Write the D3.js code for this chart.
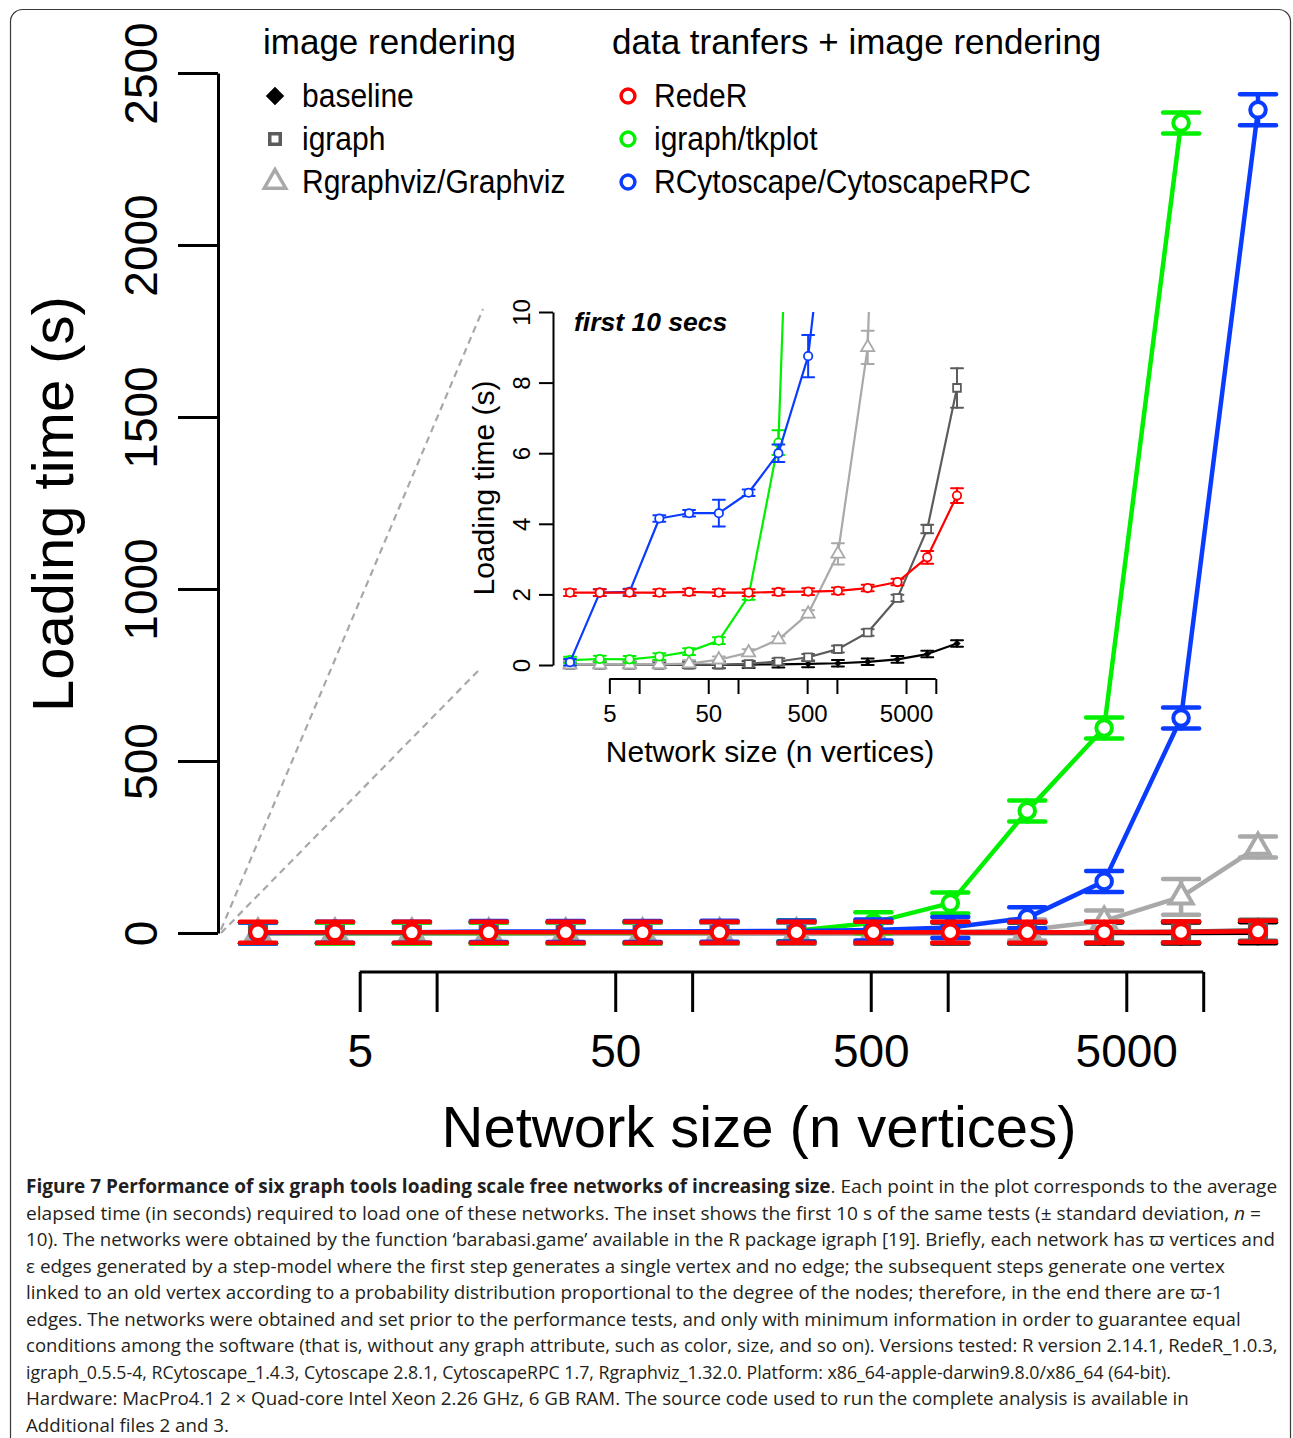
<!DOCTYPE html>
<html><head><meta charset="utf-8">
<script src="https://cdn.jsdelivr.net/npm/d3@7"></script>
<style>body{margin:0;background:#fff} svg{display:block}</style>
</head><body>
<svg id="chart" width="1293" height="1438"></svg>
<script>
// ---------------- data ----------------
const sizes = [2,4,8,16,32,64,128,256,512,1024,2048,4096,8192,16384];
const baselineMean  = [0,0,0,0,0,0,0.01,0.02,0.03,0.05,0.09,0.16,0.31,0.61];
const baselineSd    = [0.01,0.01,0.01,0.01,0.01,0.01,0.02,0.03,0.03,0.04,0.05,0.05,0.08,0.07];
const igraphMean    = [0.01,0.01,0.01,0.01,0.01,0.01,0.03,0.1,0.22,0.45,0.92,1.9,3.85,7.85];
const igraphSd      = [0.01,0.01,0.01,0.01,0.01,0.01,0.02,0.03,0.04,0.05,0.06,0.08,0.12,0.56];
const rgraphvizMean = [0.01,0.01,0.01,0.02,0.04,0.15,0.35,0.72,1.45,3.15,9.0,35,105,250];
const rgraphvizSd   = [0.01,0.01,0.01,0.01,0.02,0.03,0.05,0.05,0.1,0.3,0.47,8,52,25];
const redeRMean     = [2.05,2.05,2.05,2.05,2.07,2.05,2.05,2.07,2.08,2.1,2.18,2.35,3.05,4.8];
const redeRSd       = [0.05,0.05,0.05,0.05,0.05,0.05,0.05,0.05,0.05,0.05,0.05,0.06,0.18,0.21];
const tkplotMean    = [0.14,0.17,0.16,0.24,0.38,0.69,1.95,6.3,30,87,355,596,2355,null];
const tkplotSd      = [0.03,0.03,0.03,0.04,0.05,0.07,0.1,0.35,5,25,28,28,28,null];
const rcytoMean     = [0.08,2.05,2.07,4.15,4.3,4.3,4.88,6.0,8.75,16,44,150,625,2393];
const rcytoSd       = [0.05,0.05,0.05,0.09,0.06,0.38,0.08,0.25,0.6,5,25,28,28,45];

const mainYTicks  = [0,500,1000,1500,2000,2500];
const xTicks      = [5,10,50,100,500,1000,5000,10000];
const xTickLabels = [5,50,500,5000];
const insetYTicks = [0,2,4,6,8,10];

const legendLeftTitle  = "image rendering";
const legendRightTitle = "data tranfers + image rendering";

// series definitions (drawing order)
const series = [
  {name:"baseline", mean:baselineMean, sd:baselineSd, color:"#000000", shape:"diamond"},
  {name:"igraph", mean:igraphMean, sd:igraphSd, color:"#5c5c5c", shape:"square"},
  {name:"Rgraphviz/Graphviz", mean:rgraphvizMean, sd:rgraphvizSd, color:"#a9a9a9", shape:"triangle"},
  {name:"igraph/tkplot", mean:tkplotMean, sd:tkplotSd, color:"#00f000", shape:"circle"},
  {name:"RCytoscape/CytoscapeRPC", mean:rcytoMean, sd:rcytoSd, color:"#0a3cff", shape:"circle"},
  {name:"RedeR", mean:redeRMean, sd:redeRSd, color:"#ff0000", shape:"circle"}
];
const legendLeft  = ["baseline","igraph","Rgraphviz/Graphviz"];
const legendRight = ["RedeR","igraph/tkplot","RCytoscape/CytoscapeRPC"];

const captionLines = [
  [{t:"Figure 7 Performance of six graph tools loading scale free networks of increasing size", b:1},{t:". Each point in the plot corresponds to the average"}],
  [{t:"elapsed time (in seconds) required to load one of these networks. The inset shows the first 10 s of the same tests (± standard deviation, "},{t:"n",i:1},{t:" ="}],
  [{t:"10). The networks were obtained by the function \u2018barabasi.game\u2019 available in the R package igraph [19]. Briefly, each network has \u03D6 vertices and"}],
  [{t:"\u03B5 edges generated by a step-model where the first step generates a single vertex and no edge; the subsequent steps generate one vertex"}],
  [{t:"linked to an old vertex according to a probability distribution proportional to the degree of the nodes; therefore, in the end there are \u03D6-1"}],
  [{t:"edges. The networks were obtained and set prior to the performance tests, and only with minimum information in order to guarantee equal"}],
  [{t:"conditions among the software (that is, without any graph attribute, such as color, size, and so on). Versions tested: R version 2.14.1, RedeR_1.0.3,"}],
  [{t:"igraph_0.5.5-4, RCytoscape_1.4.3, Cytoscape 2.8.1, CytoscapeRPC 1.7, Rgraphviz_1.32.0. Platform: x86_64-apple-darwin9.8.0/x86_64 (64-bit)."}],
  [{t:"Hardware: MacPro4.1 2 \u00D7 Quad-core Intel Xeon 2.26 GHz, 6 GB RAM. The source code used to run the complete analysis is available in"}],
  [{t:"Additional files 2 and 3."}]
];
const captionRightEdges = [1278,1262,1276,1226,1223,1242,1278,1172,1190,229];

// ---------------- drawing ----------------
const svg = d3.select("#chart");
const FONT = "'Liberation Sans', Arial, Helvetica, sans-serif";

svg.append("rect").attr("x",10.5).attr("y",9.5).attr("width",1280).attr("height",1500)
  .attr("rx",12).attr("fill","none").attr("stroke","#3a3a3a").attr("stroke-width",1.2);

function symbolPath(shape, s) {
  const map = {diamond:d3.symbolSquare, square:d3.symbolSquare, triangle:d3.symbolTriangle, circle:d3.symbolCircle};
  return d3.symbol().type(map[shape]).size(s)();
}
function symTransform(shape, cx, cy) {
  return `translate(${cx},${cy})` + (shape==="diamond" ? " rotate(45)" : "");
}

function drawSeries(g, s, x, y, st) {
  const pts = sizes.map((n,i)=>({n, m:s.mean[i], sd:s.sd[i]})).filter(d=>d.m!=null);
  const sg = g.append("g");
  sg.append("path").datum(pts)
    .attr("d", d3.line().x(d=>x(d.n)).y(d=>y(d.m)))
    .attr("fill","none").attr("stroke",s.color).attr("stroke-width",st.lw).attr("stroke-linejoin","round");
  const eb = sg.append("g").attr("stroke",s.color).attr("stroke-width",st.ebw).attr("stroke-linecap","round");
  pts.forEach(d=>{
    const cx=x(d.n), cy=y(d.m);
    const hu = Math.max(cy - y(d.m + d.sd), st.minHalf);
    const hd = Math.max(y(d.m - d.sd) - cy, st.minHalf);
    eb.append("line").attr("x1",cx).attr("x2",cx).attr("y1",cy-hu).attr("y2",cy+hd);
    eb.append("line").attr("x1",cx-st.cap).attr("x2",cx+st.cap).attr("y1",cy-hu).attr("y2",cy-hu);
    eb.append("line").attr("x1",cx-st.cap).attr("x2",cx+st.cap).attr("y1",cy+hd).attr("y2",cy+hd);
  });
  sg.selectAll(".mk").data(pts).join("path")
    .attr("transform",d=>symTransform(s.shape, x(d.n), y(d.m)))
    .attr("d", symbolPath(s.shape, st.size[s.shape]))
    .attr("fill", s.shape==="diamond" ? s.color : "#fff")
    .attr("stroke", s.color)
    .attr("stroke-width", s.shape==="diamond" ? 0.5 : st.mw);
}

// ---- main chart ----
const xMain = d3.scaleLog().domain([2,16384]).range([258,1258]);
const yMain = d3.scaleLinear().domain([0,2500]).range([933,73]);

// dashed zoom lines
const zl = svg.append("g").attr("stroke","#a8a8a8").attr("stroke-width",2.2).attr("stroke-dasharray","7,5").attr("fill","none");
zl.append("line").attr("x1",221).attr("y1",yMain(10)).attr("x2",483).attr("y2",309);
zl.append("line").attr("x1",221).attr("y1",yMain(0)).attr("x2",478).attr("y2",671);

// y axis
const yAx = svg.append("g").attr("transform","translate(218,0)")
  .call(d3.axisLeft(yMain).tickValues(mainYTicks).tickSize(40).tickSizeOuter(0).tickFormat(d3.format("d")));
yAx.select(".domain").attr("stroke-width",3);
yAx.selectAll(".tick line").attr("stroke-width",3);
yAx.selectAll(".tick text").attr("x",null).attr("dy",null)
  .attr("transform","rotate(-90)").attr("y",-61).attr("x",0)
  .attr("text-anchor","middle").attr("font-size",46).attr("font-family",FONT).attr("fill","#000");

// x axis
const xAx = svg.append("g").attr("transform","translate(0,972)")
  .call(d3.axisBottom(xMain).tickValues(xTicks).tickSize(40)
     .tickFormat(d=>xTickLabels.includes(d)?String(d):""));
xAx.select(".domain").remove();
xAx.append("line").attr("x1",xMain(xTicks[0])).attr("x2",xMain(xTicks[xTicks.length-1]))
  .attr("y1",0).attr("y2",0).attr("stroke","#000").attr("stroke-width",3);
xAx.selectAll(".tick line").attr("stroke-width",3);
xAx.selectAll(".tick text").attr("y",95).attr("dy",null)
  .attr("font-size",46).attr("font-family",FONT).attr("fill","#000");

svg.append("text").attr("transform","translate(73,504) rotate(-90)").attr("text-anchor","middle")
  .attr("font-size",58).attr("font-family",FONT).text("Loading time (s)");
svg.append("text").attr("x",759).attr("y",1147).attr("text-anchor","middle")
  .attr("font-size",58).attr("font-family",FONT).text("Network size (n vertices)");

const mainStyle = {lw:4.5, ebw:4.5, cap:18, minHalf:10.5, mw:4, size:{circle:190, triangle:230, square:260, diamond:90}};
const mainG = svg.append("g");
series.forEach(s=>drawSeries(mainG, s, xMain, yMain, mainStyle));

// ---- legend ----
const lg = svg.append("g").attr("font-family",FONT);
lg.append("text").attr("x",263).attr("y",54).attr("font-size",35).text(legendLeftTitle);
lg.append("text").attr("x",612).attr("y",54).attr("font-size",35).text(legendRightTitle);
const legSize = {circle:150, triangle:200, square:110, diamond:160};
function legendCol(names, sx, tx) {
  names.forEach((nm,i)=>{
    const s = series.find(d=>d.name===nm);
    const yy = 107 + i*43;
    lg.append("path").attr("transform",symTransform(s.shape, sx, yy-11))
      .attr("d",symbolPath(s.shape, legSize[s.shape]))
      .attr("fill", s.shape==="diamond" ? s.color : "none")
      .attr("stroke", s.color).attr("stroke-width", s.shape==="diamond"?0.5:3.5);
    lg.append("text").attr("transform",`translate(${tx},${yy}) scale(0.91,1)`)
      .attr("font-size",33).text(nm);
  });
}
legendCol(legendLeft, 275, 302);
legendCol(legendRight, 628, 654);

// ---- inset ----
const xIn = d3.scaleLog().domain([2,16384]).range([570,957]);
const yIn = d3.scaleLinear().domain([0,10]).range([665,312]);
const inset = svg.append("g");
svg.append("defs").append("clipPath").attr("id","insetClip")
  .append("rect").attr("x",540).attr("y",yIn(10)).attr("width",460).attr("height",60+yIn(0)-yIn(10));

const iyAx = inset.append("g").attr("transform","translate(553,0)")
  .call(d3.axisLeft(yIn).tickValues(insetYTicks).tickSize(14).tickSizeOuter(0).tickFormat(d3.format("d")));
iyAx.select(".domain").attr("stroke-width",2);
iyAx.selectAll(".tick line").attr("stroke-width",2);
iyAx.selectAll(".tick text").attr("dy",null).attr("transform","rotate(-90)").attr("y",-23).attr("x",0)
  .attr("text-anchor","middle").attr("font-size",24).attr("font-family",FONT).attr("fill","#000");

const ixAx = inset.append("g").attr("transform","translate(0,679)")
  .call(d3.axisBottom(xIn).tickValues(xTicks).tickSize(15)
     .tickFormat(d=>xTickLabels.includes(d)?String(d):""));
ixAx.select(".domain").remove();
ixAx.append("line").attr("x1",xIn(xTicks[0])).attr("x2",xIn(xTicks[xTicks.length-1]))
  .attr("y1",0).attr("y2",0).attr("stroke","#000").attr("stroke-width",2);
ixAx.selectAll(".tick line").attr("stroke-width",2);
ixAx.selectAll(".tick text").attr("y",43).attr("dy",null)
  .attr("font-size",24).attr("font-family",FONT).attr("fill","#000");

inset.append("text").attr("transform","translate(494,488) rotate(-90)").attr("text-anchor","middle")
  .attr("font-size",30).attr("font-family",FONT).text("Loading time (s)");
inset.append("text").attr("x",770).attr("y",762).attr("text-anchor","middle")
  .attr("font-size",30).attr("font-family",FONT).text("Network size (n vertices)");
inset.append("text").attr("x",574).attr("y",331).attr("font-size",26.5)
  .attr("font-weight","bold").attr("font-style","italic").attr("font-family",FONT).text("first 10 secs");

const inStyle = {lw:2.2, ebw:2, cap:6, minHalf:3.3, mw:1.8, size:{circle:55, triangle:75, square:60, diamond:22}};
const inG = inset.append("g").attr("clip-path","url(#insetClip)");
series.forEach(s=>drawSeries(inG, s, xIn, yIn, inStyle));

// ---- caption ----
const cap = svg.append("g").attr("font-family","'Open Sans', 'Noto Sans', sans-serif").attr("font-size",19).attr("fill","#231f20");
captionLines.forEach((segs,i)=>{
  const yy = 1193 + i*26.55;
  const t = cap.append("text").attr("x",0).attr("y",0);
  segs.forEach(sg=>{
    const ts = t.append("tspan").text(sg.t);
    if (sg.b) ts.attr("font-weight","bold");
    if (sg.i) ts.attr("font-style","italic");
  });
  const w = t.node().getBBox().width;
  const sx = (captionRightEdges[i]-26)/w;
  t.attr("transform",`translate(26,${yy}) scale(${sx},1)`);
});
</script>
</body></html>
